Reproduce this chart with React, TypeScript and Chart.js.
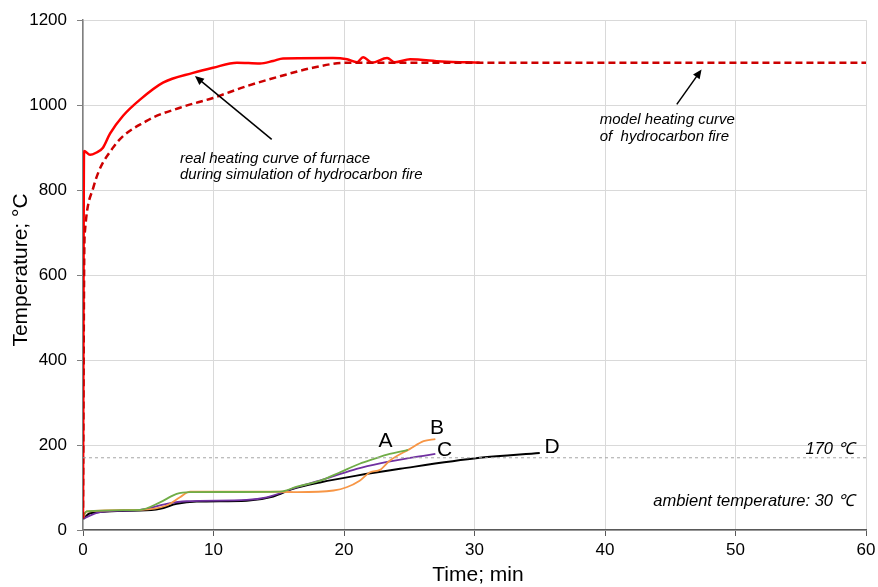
import React, { useEffect, useRef } from "react";
import { Chart, registerables } from "chart.js";
Chart.register(...registerables);

// Real heating curve of furnace
const realTime = [0, 0.08, 0.54, 1.0, 1.53, 2.07, 3.07, 4.37, 6.13, 8.43, 9.96, 11.8, 13.56, 14.56, 15.33, 19.16, 20.23, 21.0, 21.46, 22.15, 23.3, 23.9, 25.06, 27.5, 30.4];
const realTemp = [30, 892, 883, 888, 900, 933, 975, 1013, 1053, 1076, 1088, 1100, 1098, 1104, 1110, 1111, 1108, 1101, 1113, 1100, 1111, 1101, 1108, 1103, 1100];

// Model heating curve of hydrocarbon fire
const modelTime = [0, 0.1, 0.15, 0.79, 2.3, 4.88, 7.43, 9.96, 12.57, 15.1, 17.6, 20.2, 25, 30, 40, 50, 60];
const modelTemp = [27, 660, 704, 806, 900, 963, 994, 1017, 1045, 1068, 1088, 1100, 1100, 1100, 1100, 1100, 1100];

// Thermocouple A
const aTime = [0.02, 0.28, 4.37, 5.9, 7.18, 8.2, 15.1, 16.4, 18.2, 19.7, 21.2, 22.25, 23.5, 24.7, 24.9];
const aTemp = [34, 44, 47.5, 65, 85, 89, 90.5, 102, 116, 136, 156, 167, 179, 187, 188.5];

// Thermocouple B
const bTime = [0.02, 0.28, 4.37, 6.41, 7.43, 8.2, 11.26, 15.1, 16.4, 19.2, 20.2, 21.2, 22.0, 22.76, 23.5, 25.06, 26.1, 27.0];
const bTemp = [30, 43.5, 47.5, 57.6, 77, 90.5, 90, 90, 89, 93, 100.6, 116, 136, 141.5, 163, 191, 209, 214];

// Thermocouple C
const cTime = [0.02, 1.3, 4.37, 6.41, 7.95, 12.54, 14.08, 16.4, 18.93, 20.97, 22.76, 25.3, 27.0];
const cTemp = [27, 42, 47.5, 61.6, 67.7, 71, 77, 100.6, 124, 144, 157, 171, 179];

// Thermocouple D
const dTime = [0.02, 0.54, 4.37, 5.9, 7.18, 8.71, 12.54, 14.58, 16.1, 18.16, 20.97, 24.3, 30.4, 35.0];
const dTemp = [26, 39.5, 46, 50, 61.6, 67, 69, 79, 97, 112, 128, 144, 170, 181.5];

// Limit line
const limitTime = [0, 60];
const limitTemp = [170, 170];

const xTicks = [0, 10, 20, 30, 40, 50, 60];
const yTicks = [0, 200, 400, 600, 800, 1000, 1200];

const seriesLabels = ["A", "B", "C", "D"];
const seriesLabelPos = [
  [23.18, 208],
  [27.13, 240],
  [27.7, 188],
  [35.94, 196],
];

const FONT = "'Liberation Sans', Arial, sans-serif";

const pts = (xs: number[], ys: number[]) => xs.map((x, i) => ({ x, y: ys[i] }));

const overlay = {
  id: "overlay",
  afterDatasetsDraw(chart: any) {
    const { ctx, scales } = chart;
    const xs = scales.x;
    const ys = scales.y;
    const X = (v: number) => xs.getPixelForValue(v);
    const Y = (v: number) => ys.getPixelForValue(v);
    ctx.save();

    // series letters
    ctx.fillStyle = "#000";
    ctx.font = `21px ${FONT}`;
    ctx.textAlign = "center";
    ctx.textBaseline = "middle";
    seriesLabels.forEach((l, i) => {
      ctx.fillText(l, X(seriesLabelPos[i][0]), Y(seriesLabelPos[i][1]));
    });

    // italic annotations
    ctx.font = `italic 15px ${FONT}`;
    ctx.textBaseline = "alphabetic";
    ctx.textAlign = "left";
    ctx.fillText("real heating curve of furnace", X(7.43), Y(864));
    ctx.fillText("during simulation of hydrocarbon fire", X(7.43), Y(826));
    ctx.fillText("model heating curve", X(39.6), Y(955));
    ctx.fillText("of  hydrocarbon fire", X(39.6), Y(915.6));

    ctx.font = `italic 16.5px ${FONT}`;
    ctx.textAlign = "right";
    ctx.fillText("170 \u2103", X(59.05), Y(179));
    ctx.fillText("ambient temperature: 30 \u2103", X(59.05), Y(57));

    // arrows
    const arrow = (x1: number, y1: number, x2: number, y2: number) => {
      const px1 = X(x1), py1 = Y(y1), px2 = X(x2), py2 = Y(y2);
      const ang = Math.atan2(py2 - py1, px2 - px1);
      const hl = 9, hw = 4;
      ctx.strokeStyle = "#000";
      ctx.lineWidth = 1.5;
      ctx.beginPath();
      ctx.moveTo(px1, py1);
      ctx.lineTo(px2 - Math.cos(ang) * hl * 0.8, py2 - Math.sin(ang) * hl * 0.8);
      ctx.stroke();
      ctx.fillStyle = "#000";
      ctx.beginPath();
      ctx.moveTo(px2, py2);
      ctx.lineTo(px2 - Math.cos(ang) * hl - Math.sin(ang) * hw, py2 - Math.sin(ang) * hl + Math.cos(ang) * hw);
      ctx.lineTo(px2 - Math.cos(ang) * hl + Math.sin(ang) * hw, py2 - Math.sin(ang) * hl - Math.cos(ang) * hw);
      ctx.closePath();
      ctx.fill();
    };
    arrow(14.46, 919.6, 8.58, 1068.4);
    arrow(45.5, 1002, 47.4, 1084);

    // axis titles
    ctx.fillStyle = "#000";
    ctx.font = `21px ${FONT}`;
    ctx.textAlign = "center";
    ctx.textBaseline = "middle";
    ctx.fillText("Time; min", 478, 575);
    ctx.translate(21, 270);
    ctx.rotate(-Math.PI / 2);
    ctx.fillText("Temperature; \u00B0C", 0, 0);
    ctx.restore();
  },
};

const line = (xs: number[], ys: number[], color: string, width: number, dash: number[] = []) => ({
  data: pts(xs, ys),
  borderColor: color,
  borderWidth: width,
  borderDash: dash,
  pointRadius: 0,
  cubicInterpolationMode: "monotone" as const,
});

export default function App() {
  const ref = useRef<HTMLCanvasElement>(null);
  useEffect(() => {
    if (!ref.current) return;
    const chart = new Chart(ref.current, {
      type: "line",
      data: {
        datasets: [
          { ...line(limitTime, limitTemp, "#a6a6a6", 1, [3, 3]), cubicInterpolationMode: "default", tension: 0 },
          line(modelTime, modelTemp, "#cc0000", 2.5, [7, 4]),
          line(realTime, realTemp, "#ff0000", 2.5),
          line(aTime, aTemp, "#70ad47", 1.8),
          line(bTime, bTemp, "#f79646", 1.8),
          line(cTime, cTemp, "#7030a0", 1.8),
          line(dTime, dTemp, "#000000", 2),
        ] as any,
      },
      options: {
        animation: false,
        responsive: false,
        maintainAspectRatio: false,
        layout: { padding: { left: 0, right: 12, top: 19, bottom: 0 } },
        plugins: { legend: { display: false }, tooltip: { enabled: false } },
        scales: {
          x: {
            type: "linear",
            min: 0,
            max: 60,
            afterBuildTicks: (s: any) => {
              s.ticks = xTicks.map((v) => ({ value: v }));
            },
            afterFit: (s: any) => {
              s.height = 57;
              s.paddingRight = 10;
              s.paddingLeft = 0;
            },
            ticks: {
              color: "#000",
              font: { family: FONT, size: 17 },
              padding: 4,
              maxRotation: 0,
              callback: (v: any) => String(v),
            },
            grid: {
              color: "#d9d9d9",
              tickColor: "#595959",
              tickLength: 6,
              lineWidth: 1,
            },
            border: { color: "#595959", width: 1.5 },
          },
          y: {
            type: "linear",
            min: 0,
            max: 1200,
            afterBuildTicks: (s: any) => {
              s.ticks = yTicks.map((v) => ({ value: v }));
            },
            afterFit: (s: any) => {
              s.width = 83;
            },
            ticks: {
              color: "#000",
              font: { family: FONT, size: 17 },
              padding: 10,
              callback: (v: any) => String(v),
            },
            grid: {
              color: "#d9d9d9",
              tickColor: "#808080",
              tickLength: 6,
              lineWidth: 1,
            },
            border: { color: "#808080", width: 1.5 },
          },
        },
      },
      plugins: [overlay],
    });
    return () => chart.destroy();
  }, []);
  return (
    <div style={{ position: "absolute", left: 0, top: 0, width: 878, height: 587, background: "#fff" }}>
      <canvas ref={ref} width={878} height={587} style={{ width: 878, height: 587 }} />
    </div>
  );
}
